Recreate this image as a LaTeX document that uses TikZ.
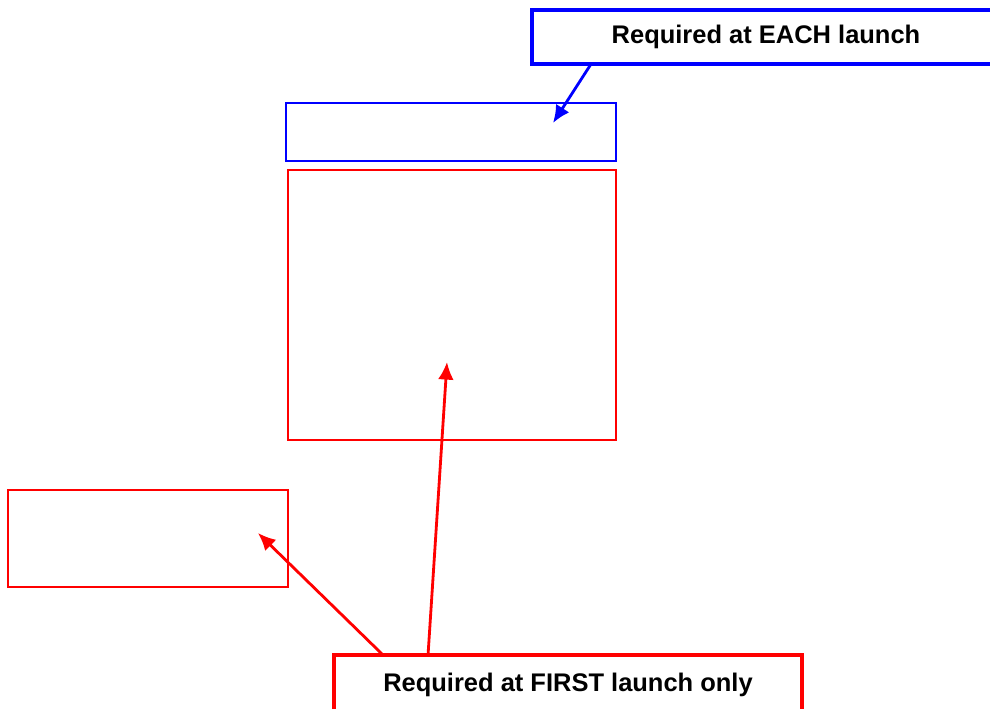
\documentclass[tikz,border=0pt]{standalone}
\usepackage{fontspec}
\setmainfont{Liberation Sans}
\usetikzlibrary{arrows.meta}
\definecolor{eachblue}{RGB}{0,0,255}
\definecolor{firstred}{RGB}{255,0,0}
\begin{document}
\begin{tikzpicture}[x=0.02cm,y=-0.02cm,
		box/.style={draw, rectangle, line width=1.6pt, inner sep=0pt, outer sep=0pt},
		callout/.style={draw, rectangle, line width=2.3pt, fill=white, inner sep=0pt, outer sep=0pt,
			minimum width=9.36cm, font=\fontsize{14.5}{17}\selectfont\bfseries},
		pointer/.style={line width=1.6pt, -{Latex[length=10pt,width=9pt]}}]
		\useasboundingbox (0,0) rectangle (990,708);
		\clip (0,0) rectangle (990,708);
		
		% Boxes
		\node[box, draw=eachblue, minimum width=6.6cm, minimum height=1.16cm] (launchbox) at (451,132) {};
		\node[box, draw=firstred, minimum width=6.56cm, minimum height=5.4cm] (mainbox) at (452,305) {};
		\node[box, draw=firstred, minimum width=5.6cm, minimum height=1.94cm] (sidebox) at (148,538.5) {};
		
		% Callouts
		\node[callout, draw=eachblue, minimum height=1.08cm] (each) at (766,37) {Required at EACH launch};
		\node[callout, draw=firstred, minimum height=1.2cm] (first) at (568,685) {Required at FIRST launch only};
		
		% Arrow targets
		\coordinate (launchpt) at (553,123);
		\coordinate (mainpt) at (447,362);
		\coordinate (sidept) at (258,533);
		
		% Arrows
		\draw[pointer, eachblue] ([xshift=-3.5cm]each.south) -- (launchpt);
		\draw[pointer, firstred] ([xshift=-3.7cm]first.north) -- (sidept);
		\draw[pointer, firstred] ([xshift=-2.8cm]first.north) -- (mainpt);
\end{tikzpicture}
\end{document}
